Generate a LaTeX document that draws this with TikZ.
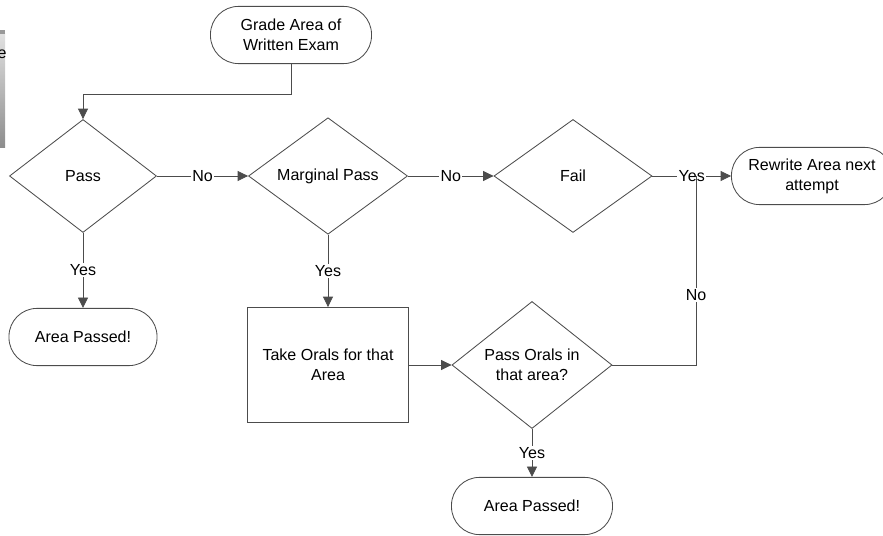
\documentclass[tikz,border=0pt]{standalone}
\usepackage{fontspec}
\setmainfont{Liberation Sans}
\usetikzlibrary{shapes.geometric,arrows.meta}
\tikzset{
	term/.style={draw=black!70, rectangle, rounded corners=0.7cm, minimum width=4.025cm, minimum height=1.43cm, align=center, inner sep=0},
	decide/.style={draw=black!70, diamond, inner sep=0, minimum height=2.825cm, align=center},
	proc/.style={draw=black!70, rectangle, align=center, inner sep=0},
	lbl/.style={fill=white, inner sep=1pt},
	flow/.style={draw=black!70, -{Triangle[length=0.26cm,width=0.25cm]}},
}
\begin{document}
\begin{tikzpicture}[x=0.025cm,y=-0.025cm,line width=0.6pt,font=\fontsize{11.4}{14.2}\selectfont]
	\clip (0,0) rectangle (883,536);
	% cut-off strip at the left edge
	\shade[top color=black!12, bottom color=black!45] (-60,34) rectangle (5,148);
	\fill[black!40] (-60,30) rectangle (5,34);
	\node[anchor=east, inner sep=0] (strip) at (7,54) {e};
	
	\node[term] (grade) at (291,35) {Grade Area of\\Written Exam};
	\node[decide, minimum width=3.675cm] (pass) at (83,176) {Pass};
	\node[decide, minimum width=3.975cm] (marg) at (328,176) {Marginal Pass};
	\node[decide, minimum width=3.95cm] (fail) at (573,176) {Fail};
	\node[term] (rewrite) at (812,176) {Rewrite Area next\\attempt};
	\node[term, minimum width=3.7cm] (passedA) at (83,337) {Area Passed!};
	\node[proc, minimum width=4.025cm, minimum height=2.875cm] (orals) at (328,365) {Take Orals for that\\Area};
	\node[decide, minimum width=4cm, minimum height=2.85cm] (porals) at (532,365) {Pass Orals in\\that area?};
	\node[term] (passedB) at (532,506) {Area Passed!};
	\coordinate (join) at (696,176);
	
	\draw[flow] (grade.south) -- ++(0,30) -| (pass.north);
	\draw[flow] (pass.east) -- node[lbl]{No} (marg.west);
	\draw[flow] (marg.east) -- node[lbl]{No} (fail.west);
	\draw[flow] (fail.east) -- node[lbl]{Yes} (rewrite.west);
	\draw[flow] (pass.south) -- node[lbl]{Yes} (passedA.north);
	\draw[flow] (marg.south) -- node[lbl]{Yes} (orals.north);
	\draw[flow] (orals.east) -- (porals.west);
	\draw[flow] (porals.south) -- node[lbl]{Yes} (passedB.north);
	\draw[draw=black!70] (porals.east) -| node[lbl, pos=0.685]{No} (join);
\end{tikzpicture}
\end{document}
